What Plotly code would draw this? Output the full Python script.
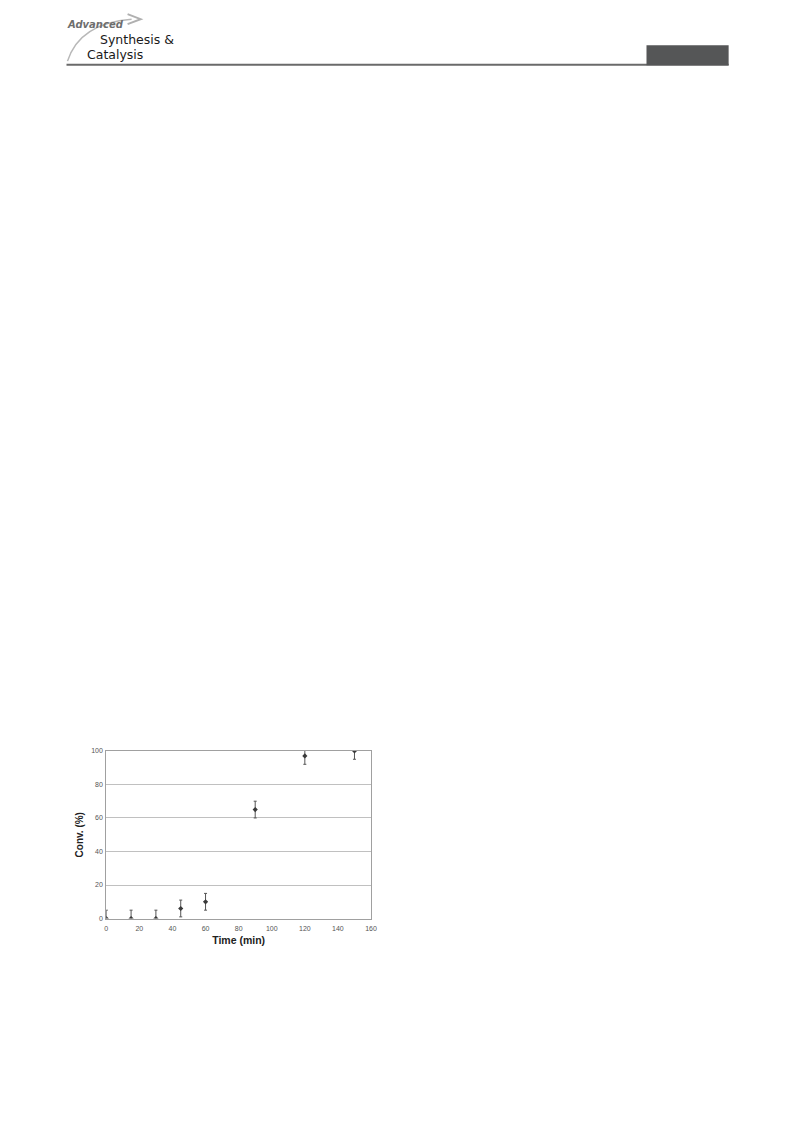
import plotly.graph_objects as go

# Data
time_min = [0, 15, 30, 45, 60, 90, 120, 150]
conversion = [0, 0, 0, 6, 10, 65, 97, 100]
error = [5, 5, 5, 5, 5, 5, 5, 5]
x_ticks = [0, 20, 40, 60, 80, 100, 120, 140, 160]
y_ticks = [0, 20, 40, 60, 80, 100]

W, H = 777, 1105
# map page pixel positions (as seen in the photographed window) to paper coords
def px(x):
    return ((x - 10.6) / 0.988) / W
def py(y):
    return 1 - ((y - 10.85) / 0.994) / H

fig = go.Figure()
fig.add_trace(go.Scatter(
    x=time_min, y=conversion, mode="markers",
    marker=dict(symbol="diamond", size=4, color="#3a3a3a"),
    error_y=dict(type="data", array=error, visible=True, color="#555555",
                 thickness=1, width=1.5),
    cliponaxis=True, showlegend=False,
))

axis_font = dict(family="Liberation Sans, Arial, sans-serif", size=7, color="#555555")
fig.update_layout(
    width=W, height=H,
    margin=dict(l=0, r=0, t=0, b=0),
    paper_bgcolor="white", plot_bgcolor="white",
    xaxis=dict(domain=[px(106.7), px(371)], range=[0, 160], tickvals=x_ticks,
               showgrid=False, zeroline=False, showline=True, linecolor="#a0a0a0",
               linewidth=1, mirror=True, tickfont=axis_font, ticks="",
               ticklabelstandoff=3,
               title=dict(text="<b>Time (min)</b>", standoff=5,
                          font=dict(family="Liberation Sans, Arial, sans-serif", size=10.5, color="#222222"))),
    yaxis=dict(domain=[py(917.7), py(750)], range=[0, 100], tickvals=y_ticks,
               showgrid=True, gridcolor="#c0c0c0", gridwidth=1, zeroline=False,
               showline=True, linecolor="#a0a0a0", linewidth=1, mirror=True,
               tickfont=axis_font, ticks="", ticklabelstandoff=1,
               title=dict(text="<b>Conv. (%)</b>", standoff=5,
                          font=dict(family="Liberation Sans, Arial, sans-serif", size=10, color="#222222"))),
)

# Journal header
fig.add_shape(type="line", xref="paper", yref="paper",
              x0=px(67), x1=px(728), y0=py(63.5), y1=py(63.5),
              line=dict(color="#6a6a6a", width=2))
fig.add_shape(type="rect", xref="paper", yref="paper",
              x0=px(646), x1=px(728), y0=py(64), y1=py(44),
              fillcolor="#555657", line=dict(width=0))
# swoosh
p0 = (px(68), py(60)); c = (px(80), py(22)); p1 = (px(132), py(18))
fig.add_shape(type="path", xref="paper", yref="paper",
              path=f"M {p0[0]},{p0[1]} Q {c[0]},{c[1]} {p1[0]},{p1[1]}",
              line=dict(color="#b8b8b8", width=1.5))
fig.add_shape(type="path", xref="paper", yref="paper",
              path=f"M {px(128)},{py(13)} L {px(141)},{py(18)} L {px(128)},{py(23)}",
              line=dict(color="#b0b0b0", width=2))

fig.add_annotation(x=px(66), y=py(23), xref="paper", yref="paper", xanchor="left", yanchor="middle",
                   text="<b><i>Advanced</i></b>", showarrow=False,
                   font=dict(family="DejaVu Sans, sans-serif", size=10, color="#6e6e6e"))
fig.add_annotation(x=px(98), y=py(38), xref="paper", yref="paper", xanchor="left", yanchor="middle",
                   text="Synthesis &amp;", showarrow=False,
                   font=dict(family="DejaVu Sans, sans-serif", size=12.5, color="#1a1a1a"))
fig.add_annotation(x=px(85), y=py(53), xref="paper", yref="paper", xanchor="left", yanchor="middle",
                   text="Catalysis", showarrow=False,
                   font=dict(family="DejaVu Sans, sans-serif", size=12.5, color="#1a1a1a"))

fig.write_html("out.html")
